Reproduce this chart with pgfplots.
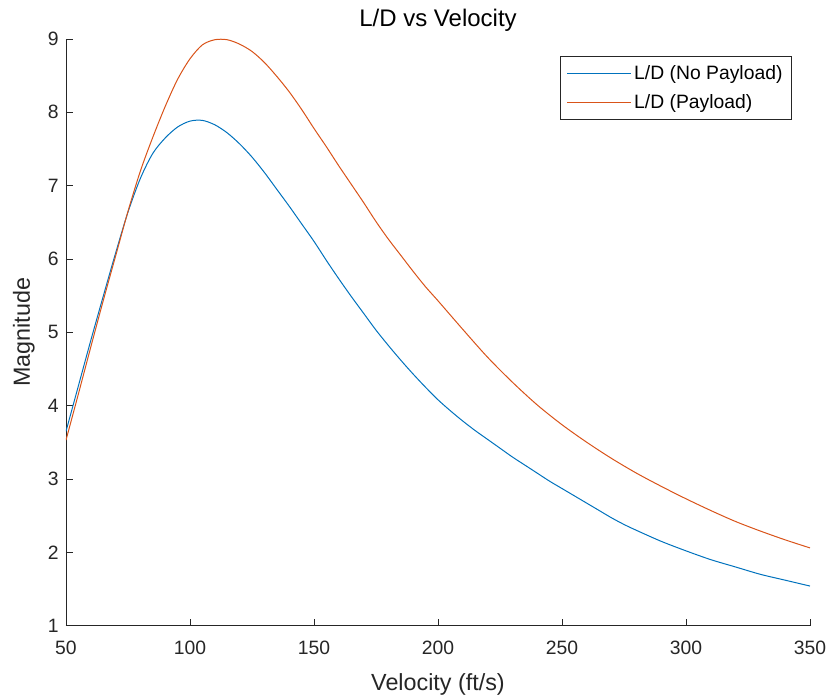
\documentclass[border=0pt]{standalone}
\usepackage{fontspec}
\setmainfont{Liberation Sans}
\usepackage{pgfplots}
\pgfplotsset{compat=1.18}
\definecolor{mblue}{RGB}{0,114,189}
\definecolor{morange}{RGB}{217,83,25}
\definecolor{axgray}{RGB}{38,38,38}
\begin{document}
\begin{tikzpicture}
\begin{axis}[
  scale only axis,
  width=558pt, height=440pt,
  xmin=50, xmax=350, ymin=1, ymax=9,
  xtick={50,100,...,350}, ytick={1,2,...,9},
  axis x line=bottom, axis y line=left,
  axis line style={-, axgray, line width=0.5pt},
  tick align=inside,
  major tick length=5pt,
  tick style={axgray, line width=0.5pt},
  /pgf/number format/assume math mode=true,
  ticklabel style={font=\fontsize{14.5}{16}\selectfont, text=axgray},
  xticklabel style={yshift=-8pt},
  yticklabel style={xshift=-2pt},
  xlabel={Velocity (ft/s)},
  ylabel={Magnitude},
  label style={font=\fontsize{17.5}{20}\selectfont, text=axgray},
  xlabel style={at={(axis description cs:0.5,-0.1005)}, anchor=center},
  ylabel style={at={(axis description cs:-0.0565,0.5)}, anchor=center},
  legend style={at={(axis description cs:0.976,0.971)}, anchor=north east,
    draw=axgray, line width=0.5pt, font=\fontsize{14.5}{17}\selectfont,
    inner xsep=5pt, inner ysep=4.5pt, row sep=6pt},
  legend cell align=left,
  legend image code/.code={\draw[#1] (0pt,0pt) -- (48pt,0pt);},
]
\addplot[mblue, line width=0.75pt, smooth, tension=0.5] coordinates {
(50,3.65) (55,4.27) (60,4.89) (65,5.49) (70,6.08) (75,6.64) (80,7.10) (85,7.44)
(90,7.65) (95,7.80) (100,7.88) (105,7.89) (110,7.83) (115,7.72) (120,7.57)
(125,7.39) (130,7.18) (135,6.95) (140,6.72) (145,6.48) (150,6.24) (155,5.98)
(160,5.73) (165,5.49) (170,5.26) (175,5.03) (180,4.82) (185,4.62) (190,4.43)
(195,4.25) (200,4.08) (205,3.93) (210,3.79) (215,3.66) (220,3.54) (225,3.42)
(230,3.30) (235,3.19) (240,3.08) (245,2.97) (250,2.87) (255,2.77) (260,2.67)
(265,2.57) (270,2.47) (275,2.38) (280,2.30) (290,2.15) (300,2.02) (310,1.90)
(320,1.80) (330,1.70) (340,1.62) (350,1.54)
};
\addlegendentry{L/D (No Payload)}
\addplot[morange, line width=0.75pt, smooth, tension=0.5] coordinates {
(50,3.53) (55,4.16) (60,4.80) (65,5.43) (70,6.04) (75,6.65) (80,7.20) (85,7.66)
(90,8.08) (95,8.45) (100,8.73) (105,8.92) (110,8.99) (115,8.99) (120,8.93)
(125,8.83) (130,8.68) (135,8.49) (140,8.28) (145,8.04) (150,7.78) (155,7.53)
(160,7.27) (165,7.02) (170,6.77) (175,6.51) (180,6.27) (185,6.05) (190,5.83)
(195,5.62) (200,5.43) (210,5.04) (220,4.66) (230,4.32) (240,4.01) (250,3.74)
(260,3.50) (270,3.28) (280,3.08) (290,2.90) (300,2.73) (310,2.57) (320,2.42)
(330,2.29) (340,2.17) (350,2.06)
};
\addlegendentry{L/D (Payload)}
\end{axis}
\node[font=\fontsize{18}{21}\selectfont, anchor=center] at ([yshift=14pt]current axis.north) {L/D vs Velocity};
\pgfresetboundingbox
\path ([xshift=-49.5pt,yshift=-55.5pt]current axis.south west) rectangle ([xshift=18pt,yshift=29.25pt]current axis.north east);
\end{tikzpicture}
\end{document}
